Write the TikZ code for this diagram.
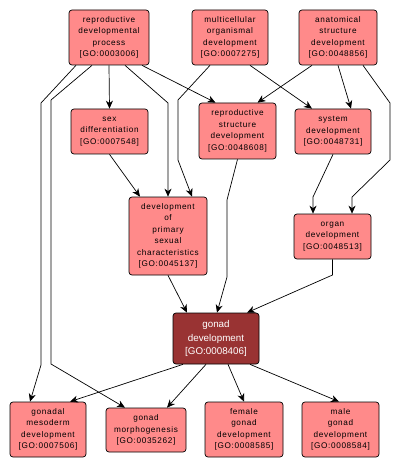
\documentclass[tikz,border=0pt]{standalone}
\usepackage{fontspec}
\setmainfont{Liberation Sans}
\newfontfamily\goFont[LetterSpace=8]{Liberation Sans}
\usetikzlibrary{arrows.meta}

\definecolor{goPink}{HTML}{FF8A8A}
\definecolor{goDark}{HTML}{993333}

\begin{document}
\begin{tikzpicture}[x=1pt, y=-1pt]

\tikzset{
    term/.style={draw, fill=goPink, rounded corners=3pt, align=center, inner sep=1pt,
        font=\goFont\fontsize{8.2}{11.5}\selectfont, line width=0.7pt},
    focus/.style={term, fill=goDark, text=white, font=\rmfamily\fontsize{9.8}{13.8}\selectfont},
    isa/.style={-{Stealth[length=8pt, width=7pt, inset=2.5pt]}, line width=0.7pt}
}
\useasboundingbox[fill=white] (0,0) rectangle (401,470);

% top row
\node[term, minimum width=80pt, minimum height=55pt] (rdp) at (109,37.5) {reproductive\\developmental\\process\\{[GO:0003006]}};
\node[term, minimum width=76pt, minimum height=55pt] (mod) at (230,37.5) {multicellular\\organismal\\development\\{[GO:0007275]}};
\node[term, minimum width=78pt, minimum height=55pt] (asd) at (338,37.5) {anatomical\\structure\\development\\{[GO:0048856]}};

% second row
\node[term, minimum width=77pt, minimum height=45pt] (sd) at (109.5,131.5) {sex\\differentiation\\{[GO:0007548]}};
\node[term, minimum width=77pt, minimum height=56pt] (rsd) at (237.5,131) {reproductive\\structure\\development\\{[GO:0048608]}};
\node[term, minimum width=76pt, minimum height=45pt] (sys) at (333,131.5) {system\\development\\{[GO:0048731]}};

% third row
\node[term, minimum width=78pt, minimum height=78pt] (dpsc) at (168,236) {development\\of\\primary\\sexual\\characteristics\\{[GO:0045137]}};
\node[term, minimum width=77pt, minimum height=45pt] (od) at (332.5,236.5) {organ\\development\\{[GO:0048513]}};

\node[focus, minimum width=86pt, minimum height=51pt] (gd) at (216,338.5) {gonad\\development\\{[GO:0008406]}};

% bottom row
\node[term, minimum width=76pt, minimum height=55pt] (gmd) at (48,429.5) {gonadal\\mesoderm\\development\\{[GO:0007506]}};
\node[term, minimum width=80pt, minimum height=44pt] (gm) at (146,430) {gonad\\morphogenesis\\{[GO:0035262]}};
\node[term, minimum width=78pt, minimum height=55pt] (fgd) at (244,429.5) {female\\gonad\\development\\{[GO:0008585]}};
\node[term, minimum width=77pt, minimum height=55pt] (mgd) at (340.5,429.5) {male\\gonad\\development\\{[GO:0008584]}};

\draw[isa] (rdp.south) -- (sd.north);
\draw[isa] ([xshift=16pt]rdp.south) -- (168,103) -- (dpsc.north);
\draw[isa] ([xshift=33pt]rdp.south) -- ([xshift=-22pt]rsd.north);
\draw[isa] ([xshift=-33pt]rdp.south) -- (41,103) -- (41,365) -- ([xshift=-18pt]gmd.north);
\draw[isa] ([xshift=-17pt]rdp.south) -- (51,100) -- (51,364) -- ([xshift=-21pt]gm.north);
\draw[isa] ([xshift=-20pt]mod.south) -- (178,100) -- (178,160) -- ([xshift=24pt]dpsc.north);
\draw[isa] ([xshift=20pt]mod.south) -- ([xshift=-21pt]sys.north);
\draw[isa] ([xshift=-26pt]asd.south) -- ([xshift=20pt]rsd.north);
\draw[isa] (asd.south) -- ([xshift=18pt]sys.north);
\draw[isa] ([xshift=25pt]asd.south) -- (390,103) -- (390,160) -- (352,197) -- ([xshift=19.5pt]od.north);
\draw[isa] (sys.south) -- (313,197) -- ([xshift=-19.5pt]od.north);
\draw[isa] (sd.south) -- ([xshift=-28pt]dpsc.north);
\draw[isa] (rsd.south) -- (227,200) -- (227,277) -- ([xshift=1pt]gd.north);
\draw[isa] (dpsc.south) -- ([xshift=-29pt]gd.north);
\draw[isa] (od.south) -- (332.5,275) -- ([xshift=31pt]gd.north);
\draw[isa] ([xshift=-33pt]gd.south) -- ([xshift=22pt]gmd.north);
\draw[isa] ([xshift=-10pt]gd.south) -- ([xshift=21pt]gm.north);
\draw[isa] ([xshift=12pt]gd.south) -- (fgd.north);
\draw[isa] ([xshift=34pt]gd.south) -- ([xshift=-1.5pt]mgd.north);
\end{tikzpicture}
\end{document}
